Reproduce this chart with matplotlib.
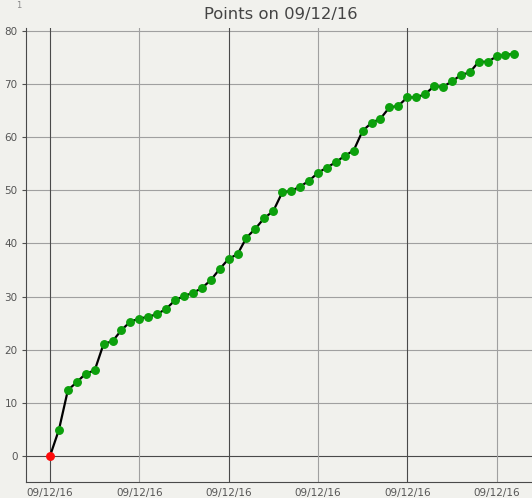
import matplotlib
matplotlib.use("Agg")
import matplotlib.pyplot as plt

title = "Points on 09/12/16"
tick_label = "09/12/16"
points = [0, 4.95, 12.4, 13.9, 15.5, 16.1, 21.1, 21.6, 23.7, 25.3,
          25.85, 26.2, 26.7, 27.7, 29.3, 30.1, 30.7, 31.6, 33.1, 35.2,
          37.1, 38.0, 41.1, 42.8, 44.8, 46.1, 49.6, 49.9, 50.7, 51.8,
          53.3, 54.3, 55.3, 56.5, 57.5, 61.2, 62.7, 63.5, 65.6, 65.9,
          67.5, 67.5, 68.1, 69.6, 69.5, 70.5, 71.7, 72.2, 74.2, 74.2,
          75.2, 75.5, 75.7]
x_ticks = [0, 10, 20, 30, 40, 50]
y_ticks = [0, 10, 20, 30, 40, 50, 60, 70, 80]

bg = "#f1f1ed"
fig = plt.figure(figsize=(5.32, 4.98), dpi=100, facecolor=bg)
ax = fig.add_axes([26/532, 16/498, 1 - 26/532, (482-28)/498], facecolor=bg)

xs = list(range(len(points)))
ax.set_xlim(-2.69, 53.97)
ax.set_ylim(-4.9, 80.56)

# grid lines
for yv in y_ticks:
    ax.axhline(yv, color="#4a4a4a" if yv == 0 else "#a0a0a0", lw=0.8, zorder=1)
for xv in x_ticks:
    ax.axvline(xv, color="#4a4a4a" if xv % 20 == 0 else "#a0a0a0", lw=0.8, zorder=1)

ax.plot(xs, points, color="black", lw=1.6, zorder=2)
ax.plot(xs[1:], points[1:], "o", color="#0ca00c", ms=5.4, mec="#0ca00c", zorder=3)
ax.plot(xs[:1], points[:1], "o", color="#ff0a0a", ms=5.4, mec="#ff0a0a", zorder=3)

ax.set_xticks(x_ticks)
ax.set_xticklabels([tick_label] * len(x_ticks))
ax.set_yticks(y_ticks)
ax.set_yticklabels([str(v) for v in y_ticks])
ax.tick_params(axis="x", length=0, pad=4, labelsize=7.5, colors="#555555")
ax.tick_params(axis="y", length=3, width=0.8, pad=3, labelsize=7.5, colors="#555555", color="#505050")

for s in ["top", "right"]:
    ax.spines[s].set_visible(False)
for s in ["left", "bottom"]:
    ax.spines[s].set_color("#4a4a4a")
    ax.spines[s].set_linewidth(0.8)

fig.text(281/532, 1 - 14/498, title, ha="center", va="center", fontsize=11.8, color="#444444")
fig.text(19/532, 1 - 5/498, "1", ha="center", va="center", fontsize=6, color="#888888")

fig.savefig("out.png", dpi=100, facecolor=bg)
